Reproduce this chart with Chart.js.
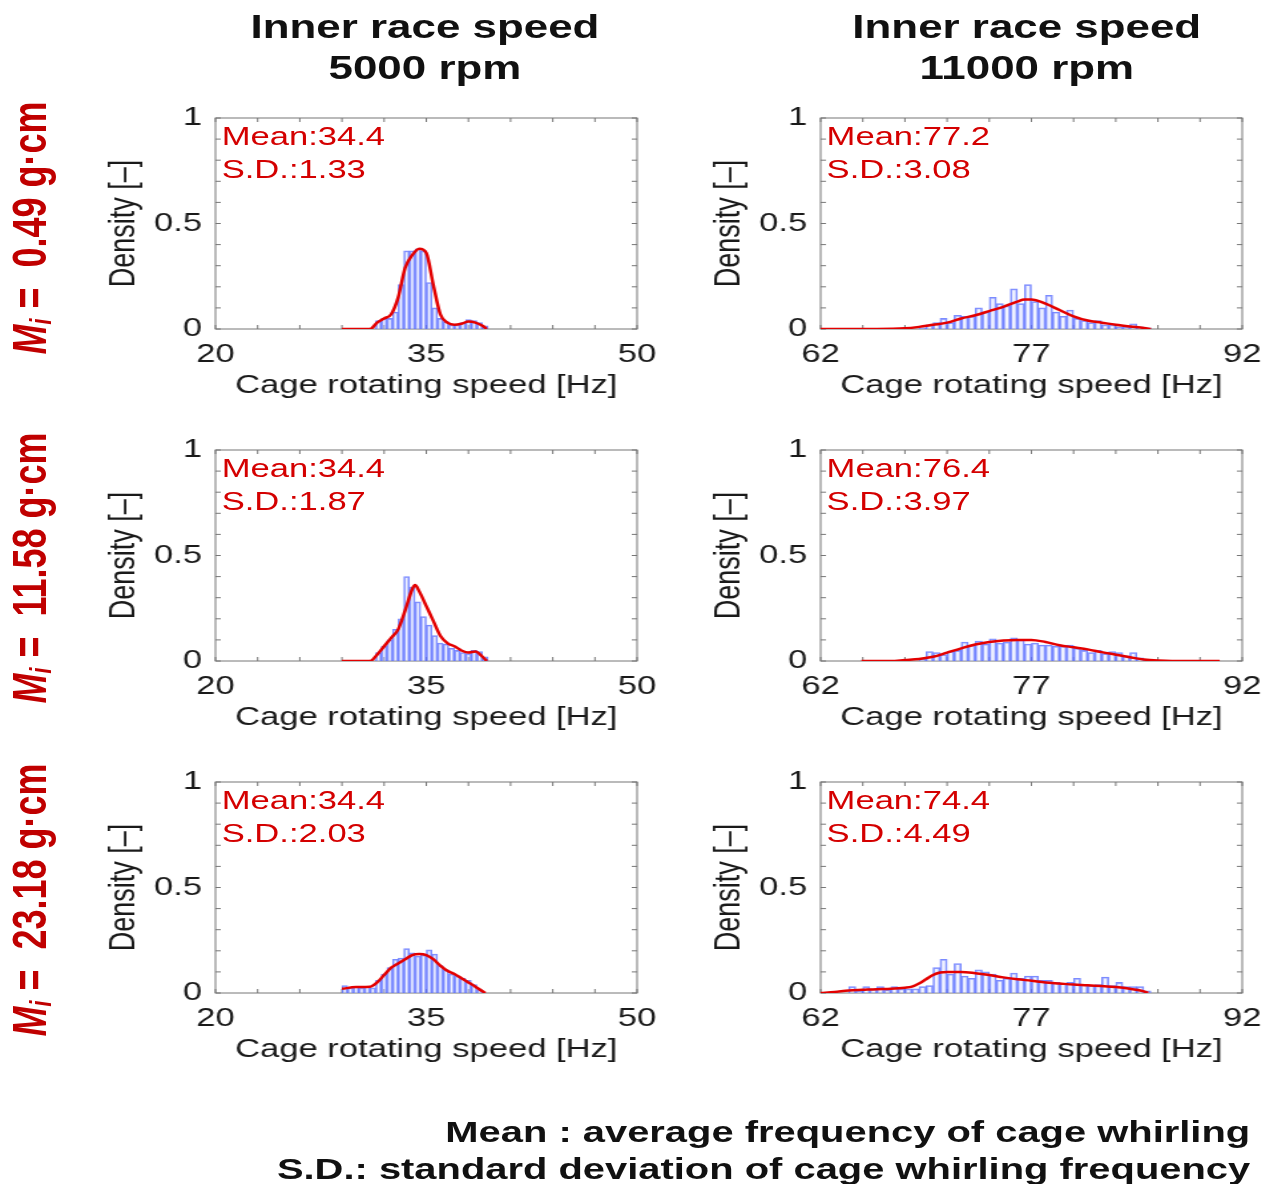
<!DOCTYPE html>
<html>
<head>
<meta charset="utf-8">
<script src="https://cdn.jsdelivr.net/npm/chart.js@4.4.1/dist/chart.umd.min.js"></script>
<style>
  html, body { margin: 0; padding: 0; background: #fff; }
  body { width: 1277px; height: 1184px; overflow: hidden; position: relative;
         font-family: "Liberation Sans", Arial, sans-serif; }
  /* the original figure is stretched sideways, so the whole stage is too */
  #stage { position: absolute; left: 0; top: 0; width: 960px; height: 1184px;
           transform: scaleX(1.33); transform-origin: 0 0; }
  .panel { position: absolute; }
  .coltitle { position: absolute; top: 6px; width: 400px; text-align: center; font-weight: bold;
              font-size: 33px; line-height: 41px; color: #111; }
  .rowlabel { position: absolute; color: #c00000; font-weight: bold; font-size: 36px; white-space: nowrap;
              transform: translate(-50%, -50%) rotate(-90deg); }
  .rowlabel sub { font-size: 0.6em; vertical-align: -0.2em; font-style: italic; }
  .stat { position: absolute; color: #d40000; font-size: 26px; line-height: 33px; white-space: nowrap; }
  .note { position: absolute; right: 20px; font-weight: bold; font-size: 30px; line-height: 37px;
          color: #111; white-space: nowrap; text-align: right; }
</style>
</head>
<body>
<div id="stage"></div>
<script>
// ---- data ----
const SPEEDS = ['5000', '11000'];
const MASSES = ['0.49', '11.58', '23.18'];
const MEANS = ['34.4', '77.2', '34.4', '76.4', '34.4', '74.4'];
const SDS = ['1.33', '3.08', '1.87', '3.97', '2.03', '4.49'];

const X_TICKS_LEFT = [20, 23, 26, 29, 32, 35, 38, 41, 44, 47, 50];
const X_TICKS_RIGHT = [62, 65, 68, 71, 74, 77, 80, 83, 86, 89, 92];
const Y_TICKS = [0, 0.1, 0.2, 0.3, 0.4, 0.5, 0.6, 0.7, 0.8, 0.9, 1];

// histogram bins: first bin edge, bin width, densities
const HIST_A_START = 31.4, HIST_A_WIDTH = 0.4;
const HIST_A = [0.04, 0.05, 0.05, 0.08, 0.21, 0.37, 0.37, 0.38, 0.37, 0.22, 0.10, 0.05, 0.035, 0.02, 0.02, 0.03, 0.045, 0.04, 0.03, 0.015];
const CURVE_A_X = [29, 30, 31, 31.5, 32, 32.5, 33, 33.5, 34, 34.5, 35, 35.5, 36, 36.5, 37, 37.5, 38, 38.5, 39, 39.3];
const CURVE_A_Y = [0, 0, 0, 0.03, 0.05, 0.07, 0.15, 0.29, 0.35, 0.38, 0.36, 0.21, 0.07, 0.03, 0.02, 0.025, 0.035, 0.03, 0.015, 0];

const HIST_B_START = 69.0, HIST_B_WIDTH = 0.5;
const HIST_B = [0.005, 0.02, 0.03, 0.05, 0.03, 0.065, 0.06, 0.06, 0.10, 0.08, 0.15, 0.12, 0.11, 0.19, 0.12, 0.21, 0.13, 0.10, 0.16, 0.08, 0.06, 0.09, 0.05, 0.04, 0.03, 0.04, 0.02, 0.02, 0.01, 0.01, 0.025, 0.01, 0.005];
const CURVE_B_X = [62, 64, 66, 68, 69, 70, 71, 72, 73, 74, 75, 76, 76.5, 77, 78, 79, 80, 81, 82, 83, 84, 85, 85.5];
const CURVE_B_Y = [0, 0, 0, 0.003, 0.01, 0.02, 0.03, 0.05, 0.065, 0.085, 0.105, 0.13, 0.14, 0.14, 0.12, 0.09, 0.06, 0.04, 0.03, 0.02, 0.012, 0.005, 0];

const HIST_C_START = 31.4, HIST_C_WIDTH = 0.4;
const HIST_C = [0.04, 0.07, 0.10, 0.15, 0.20, 0.40, 0.35, 0.28, 0.21, 0.17, 0.12, 0.085, 0.08, 0.06, 0.05, 0.04, 0.035, 0.05, 0.045, 0.02];
const CURVE_C_X = [29, 30, 31, 31.5, 32, 32.5, 33, 33.5, 34, 34.2, 34.5, 35, 35.5, 36, 36.5, 37, 37.5, 38, 38.5, 39, 39.3];
const CURVE_C_Y = [0, 0, 0, 0.03, 0.07, 0.11, 0.15, 0.24, 0.34, 0.36, 0.33, 0.26, 0.19, 0.12, 0.085, 0.07, 0.05, 0.04, 0.045, 0.02, 0];

const HIST_D_START = 69.0, HIST_D_WIDTH = 0.5;
const HIST_D = [0.01, 0.045, 0.04, 0.03, 0.045, 0.05, 0.09, 0.075, 0.095, 0.08, 0.105, 0.085, 0.09, 0.11, 0.10, 0.08, 0.085, 0.075, 0.075, 0.07, 0.07, 0.075, 0.06, 0.05, 0.04, 0.05, 0.035, 0.045, 0.04, 0.025, 0.04, 0.015, 0.005];
const CURVE_D_X = [64.9, 67, 68, 69, 70, 71, 72, 73, 74, 75, 76, 77, 78, 79, 80, 81, 82, 83, 84, 85, 86, 87, 90.4];
const CURVE_D_Y = [0, 0, 0.005, 0.01, 0.02, 0.04, 0.06, 0.078, 0.09, 0.097, 0.10, 0.10, 0.09, 0.075, 0.065, 0.055, 0.042, 0.03, 0.018, 0.007, 0.002, 0, 0];

const HIST_E_START = 29.0, HIST_E_WIDTH = 0.4;
const HIST_E = [0.035, 0.025, 0.03, 0.025, 0.03, 0.025, 0.06, 0.09, 0.12, 0.16, 0.165, 0.21, 0.19, 0.175, 0.18, 0.205, 0.185, 0.13, 0.11, 0.09, 0.08, 0.07, 0.06, 0.04, 0.015];
const CURVE_E_X = [29, 30, 31, 31.5, 32, 32.5, 33, 33.5, 34, 34.5, 35, 35.5, 36, 36.5, 37, 37.5, 38, 38.5, 39, 39.2];
const CURVE_E_Y = [0.02, 0.028, 0.03, 0.05, 0.085, 0.12, 0.14, 0.16, 0.18, 0.185, 0.18, 0.16, 0.13, 0.105, 0.09, 0.07, 0.05, 0.03, 0.008, 0];

const HIST_F_START = 64.0, HIST_F_WIDTH = 0.5;
const HIST_F = [0.03, 0.01, 0.03, 0.02, 0.03, 0.015, 0.03, 0.02, 0.02, 0.02, 0.03, 0.035, 0.12, 0.16, 0.09, 0.14, 0.08, 0.07, 0.11, 0.10, 0.09, 0.06, 0.07, 0.095, 0.07, 0.08, 0.08, 0.06, 0.06, 0.05, 0.045, 0.05, 0.07, 0.04, 0.035, 0.04, 0.075, 0.035, 0.05, 0.03, 0.03, 0.03, 0.01];
const CURVE_F_X = [62, 63, 64, 65, 66, 67, 68, 68.5, 69, 69.5, 70, 70.5, 71, 72, 73, 74, 75, 76, 77, 78, 79, 80, 81, 82, 83, 84, 85, 85.3];
const CURVE_F_Y = [0, 0.005, 0.012, 0.015, 0.018, 0.02, 0.025, 0.03, 0.045, 0.065, 0.085, 0.097, 0.10, 0.10, 0.094, 0.085, 0.074, 0.065, 0.058, 0.05, 0.045, 0.04, 0.037, 0.033, 0.028, 0.02, 0.008, 0];

const PANELS = [
    { start: HIST_A_START, width: HIST_A_WIDTH, hist: HIST_A, cx: CURVE_A_X, cy: CURVE_A_Y, ticks: X_TICKS_LEFT },
    { start: HIST_B_START, width: HIST_B_WIDTH, hist: HIST_B, cx: CURVE_B_X, cy: CURVE_B_Y, ticks: X_TICKS_RIGHT },
    { start: HIST_C_START, width: HIST_C_WIDTH, hist: HIST_C, cx: CURVE_C_X, cy: CURVE_C_Y, ticks: X_TICKS_LEFT },
    { start: HIST_D_START, width: HIST_D_WIDTH, hist: HIST_D, cx: CURVE_D_X, cy: CURVE_D_Y, ticks: X_TICKS_RIGHT },
    { start: HIST_E_START, width: HIST_E_WIDTH, hist: HIST_E, cx: CURVE_E_X, cy: CURVE_E_Y, ticks: X_TICKS_LEFT },
    { start: HIST_F_START, width: HIST_F_WIDTH, hist: HIST_F, cx: CURVE_F_X, cy: CURVE_F_Y, ticks: X_TICKS_RIGHT }
];

// ---- layout (unstretched stage pixels) ----
const PLOT_LEFT = [161.7, 616.5];
const PLOT_TOP = [118, 450, 782];
const PLOT_W = 317, PLOT_H = 211;
const AXIS_W = 100, AXIS_H = 72, PAD_TOP = 22, PAD_RIGHT = 26;
const ROW_LABEL_Y = [228, 568, 900];

Chart.defaults.font.family = "'Liberation Sans', Arial, sans-serif";
Chart.defaults.color = '#1a1a1a';

// MATLAB style box with inward tick marks
const matlabAxes = {
    id: 'matlabAxes',
    beforeDatasetsDraw(chart, args, opts) {
        const { ctx, chartArea: a, scales: { x, y } } = chart;
        ctx.save();
        ctx.strokeStyle = '#777';
        ctx.lineWidth = 1;
        ctx.strokeRect(a.left, a.top, a.width, a.height);
        ctx.beginPath();
        opts.xTicks.forEach(v => {
            const px = x.getPixelForValue(v);
            ctx.moveTo(px, a.bottom); ctx.lineTo(px, a.bottom - 4);
            ctx.moveTo(px, a.top); ctx.lineTo(px, a.top + 4);
        });
        Y_TICKS.forEach(v => {
            const py = y.getPixelForValue(v);
            ctx.moveTo(a.left, py); ctx.lineTo(a.left + 4, py);
            ctx.moveTo(a.right, py); ctx.lineTo(a.right - 4, py);
        });
        ctx.stroke();
        ctx.restore();
    }
};

const stage = document.getElementById('stage');

function addDiv(cls, html, style) {
    const d = document.createElement('div');
    d.className = cls;
    d.innerHTML = html;
    Object.assign(d.style, style);
    stage.appendChild(d);
    return d;
}

// column titles
SPEEDS.forEach((s, c) => {
    const center = c === 0 ? 319.5 : 772;
    addDiv('coltitle', 'Inner race speed<br>' + s + ' rpm', { left: (center - 200) + 'px' });
});

// row labels
MASSES.forEach((m, r) => {
    addDiv('rowlabel', '<i>M</i><sub>i</sub> =&nbsp; ' + m + ' g·cm',
        { left: '22.5px', top: ROW_LABEL_Y[r] + 'px' });
});

PANELS.forEach((p, i) => {
    const r = Math.floor(i / 2), c = i % 2;
    const canvas = document.createElement('canvas');
    const w = AXIS_W + PLOT_W + PAD_RIGHT, h = PAD_TOP + PLOT_H + AXIS_H;
    canvas.width = w; canvas.height = h;
    canvas.className = 'panel';
    Object.assign(canvas.style, {
        left: (PLOT_LEFT[c] - AXIS_W) + 'px', top: (PLOT_TOP[r] - PAD_TOP) + 'px',
        width: w + 'px', height: h + 'px'
    });
    stage.appendChild(canvas);

    const xMin = p.ticks[0], xMax = p.ticks[p.ticks.length - 1];
    new Chart(canvas, {
        type: 'bar',
        data: {
            datasets: [{
                type: 'line',
                data: p.cx.map((x, k) => ({ x: x, y: p.cy[k] })),
                borderColor: '#e30000',
                borderWidth: 2.5,
                pointRadius: 0,
                cubicInterpolationMode: 'monotone',
                order: 1
            }, {
                type: 'bar',
                data: p.hist.map((v, k) => ({ x: p.start + p.width * (k + 0.5), y: v })),
                backgroundColor: 'rgba(215, 222, 255, 0.35)',
                borderColor: 'rgba(90, 110, 255, 0.8)',
                borderWidth: 1.1,
                barPercentage: 1,
                categoryPercentage: 1,
                order: 2
            }]
        },
        options: {
            responsive: false,
            animation: false,
            layout: { padding: { top: PAD_TOP, right: PAD_RIGHT, left: 0, bottom: 0 } },
            plugins: {
                legend: { display: false },
                tooltip: { enabled: false },
                matlabAxes: { xTicks: p.ticks }
            },
            scales: {
                x: {
                    type: 'linear', offset: false, min: xMin, max: xMax,
                    grid: { display: false }, border: { display: false },
                    ticks: { stepSize: 15, padding: 2, font: { size: 26 }, maxRotation: 0 },
                    title: { display: true, text: 'Cage rotating speed [Hz]', font: { size: 26 },
                             padding: { top: 0, bottom: 0 } },
                    afterFit: s => { s.height = AXIS_H; }
                },
                y: {
                    min: 0, max: 1,
                    grid: { display: false }, border: { display: false },
                    ticks: { stepSize: 0.5, padding: 2, font: { size: 26 },
                             callback: v => String(v) },
                    title: { display: true, text: 'Density [–]', font: { size: 27 },
                             padding: { top: 15.8, bottom: 0 } },
                    afterFit: s => { s.width = AXIS_W; }
                }
            }
        },
        plugins: [matlabAxes]
    });

    addDiv('stat', 'Mean:' + MEANS[i] + '<br>S.D.:' + SDS[i],
        { left: (PLOT_LEFT[c] + 5) + 'px', top: (PLOT_TOP[r] + 1.5) + 'px' });
});

addDiv('note', 'Mean : average frequency of cage whirling<br>S.D.: standard deviation of cage whirling frequency',
    { top: '1112.5px' });
</script>
</body>
</html>
